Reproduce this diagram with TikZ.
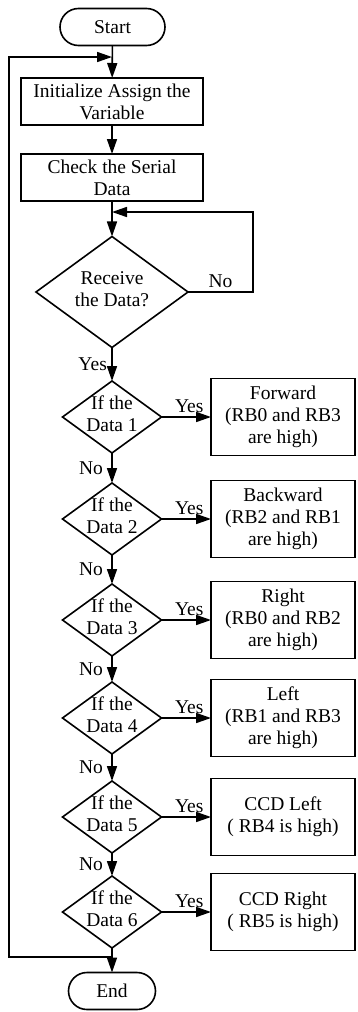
\documentclass[tikz,border=0pt]{standalone}
\usepackage{fontspec}
\setmainfont{Liberation Serif}
\usetikzlibrary{
  arrows.meta,
  shapes.geometric,
  shapes.misc,
}
\tikzset{
  terminal/.style = {
      rounded rectangle,
      draw=black,
      minimum height=37pt,
      inner sep=0pt, outer sep=0pt,
    },
  process/.style = {
      rectangle,
      draw=black,
      minimum width=182pt,
      minimum height=47pt,
      align=center,
      inner sep=0pt, outer sep=0pt,
    },
  result/.style = {
      process,
      minimum width=144pt,
      minimum height=77pt,
    },
  decision/.style = {
      diamond,
      draw=black,
      minimum width=99pt,
      minimum height=72pt,
      inner sep=0pt, outer sep=0pt,
    },
  dtext/.style = {
      align=center,
      inner sep=0pt,
      yshift=3pt,
    },
  flow/.style = {
      -{Triangle[length=15pt, width=10pt]},
    },
}

\begin{document}
\begin{tikzpicture}[x=1pt, y=-1pt, line width=1.6pt, font=\fontsize{19.5}{22}\selectfont]
    \useasboundingbox (0,0) rectangle (357,1012);

    \node[terminal, minimum width=105pt] (start) at (112.5,27) {Start};
    \node[process] (init)  at (112,101.5) {Initialize Assign the\\Variable};
    \node[process] (check) at (112,177.5) {Check the Serial\\Data};
    \node[decision, minimum width=152pt, minimum height=111pt] (recv) at (112,292) {}; \node[dtext] at (recv) {Receive\\the Data?};

    \node[decision] (d1) at (112,417) {}; \node[dtext] at (d1) {If the\\Data 1};
    \node[decision] (d2) at (112,519) {}; \node[dtext] at (d2) {If the\\Data 2};
    \node[decision] (d3) at (112,620) {}; \node[dtext] at (d3) {If the\\Data 3};
    \node[decision] (d4) at (112,718) {}; \node[dtext] at (d4) {If the\\Data 4};
    \node[decision] (d5) at (112,817) {}; \node[dtext] at (d5) {If the\\Data 5};
    \node[decision] (d6) at (112,912) {}; \node[dtext] at (d6) {If the\\Data 6};

    \node[result] (r1) at (283,417) {Forward\\(RB0 and RB3\\are high)};
    \node[result] (r2) at (283,519) {Backward\\(RB2 and RB1\\are high)};
    \node[result] (r3) at (283,620) {Right\\(RB0 and RB2\\are high)};
    \node[result] (r4) at (283,718) {Left\\(RB1 and RB3\\are high)};
    \node[result] (r5) at (283,817) {CCD Left\\( RB4 is high)};
    \node[result] (r6) at (283,912) {CCD Right\\( RB5 is high)};

    \node[terminal, minimum width=87pt] (end) at (112,991) {End};

    % loop points
    \coordinate (top)    at (112,57);
    \coordinate (back)   at (112,212);
    \coordinate (bottom) at (112,957);
    \coordinate (lb)     at (9,957);
    \coordinate (rn)     at (253,292);

    \draw[flow] (start) -- (init);
    \draw[flow] (init) -- (check);
    \draw[flow] (check) -- (recv);
    \draw[flow] (recv.east) -- node[above] {No} (rn) |- (back);
    \draw[flow] (recv) -- node[left, xshift=-1pt] {Yes} (d1);

    \draw[flow] (d1) -- node[left, xshift=-5pt] {No} (d2);
    \draw[flow] (d2) -- node[left, xshift=-5pt] {No} (d3);
    \draw[flow] (d3) -- node[left, xshift=-5pt] {No} (d4);
    \draw[flow] (d4) -- node[left, xshift=-5pt] {No} (d5);
    \draw[flow] (d5) -- node[left, xshift=-5pt] {No} (d6);
    \draw[flow] (d6) -- (end);

    \draw[flow] (d1) -- node[above, xshift=3pt] {Yes} (r1);
    \draw[flow] (d2) -- node[above, xshift=3pt] {Yes} (r2);
    \draw[flow] (d3) -- node[above, xshift=3pt] {Yes} (r3);
    \draw[flow] (d4) -- node[above, xshift=3pt] {Yes} (r4);
    \draw[flow] (d5) -- node[above, xshift=3pt] {Yes} (r5);
    \draw[flow] (d6) -- node[above, xshift=3pt] {Yes} (r6);

    \draw[flow] (bottom) -- (lb) |- (top);
  \end{tikzpicture}
\end{document}
